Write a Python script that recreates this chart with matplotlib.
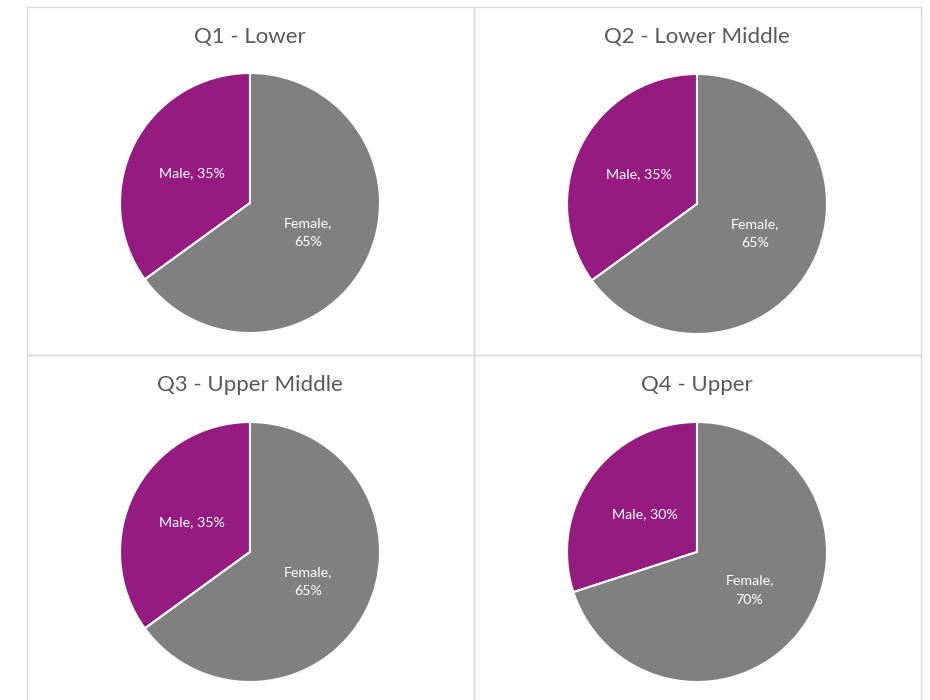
import matplotlib
matplotlib.use("Agg")
import matplotlib.pyplot as plt
from matplotlib.patches import Rectangle

plt.rcParams['font.family'] = ['Lato', 'DejaVu Sans']

titles = ["Q1 - Lower", "Q2 - Lower Middle", "Q3 - Upper Middle", "Q4 - Upper"]
categories = ["Male", "Female"]
male = [35, 35, 35, 30]
female = [65, 65, 65, 70]
colors = ["#951B81", "#808080"]

W, H = 930, 700
fig = plt.figure(figsize=(9.3, 7), dpi=100)

# panel boxes (pixels): left, top, right, bottom
panels = [(27, 7, 474, 355), (474, 7, 921, 355),
          (27, 355, 474, 715), (474, 355, 921, 715)]
centers = [(250, 203), (697, 204), (250, 552), (697, 552)]
title_y = [37, 37, 385, 385]
r = 130

for i in range(4):
    l, t, rr, b = panels[i]
    fig.patches.append(Rectangle((l / W, 1 - b / H), (rr - l) / W, (b - t) / H,
                                 transform=fig.transFigure, fill=False,
                                 edgecolor="#D9D9D9", linewidth=1))
    cx, cy = centers[i]
    ax = fig.add_axes([(cx - r) / W, 1 - (cy + r) / H, 2 * r / W, 2 * r / H])
    vals = [male[i], female[i]]
    labels = [f"{categories[0]}, {male[i]}%", f"{categories[1]},\n{female[i]}%"]
    wedges, texts = ax.pie(vals, colors=colors, startangle=90, counterclock=True,
                           labels=labels, labeldistance=0.5,
                           wedgeprops=dict(edgecolor="white", linewidth=1.5),
                           textprops=dict(color="white", fontsize=10.3))
    for tx in texts:
        tx.set_ha("center")
        tx.set_va("center")
        tx.set_linespacing(1.75)
    ax.set_xlim(-1, 1)
    ax.set_ylim(-1, 1)
    ax.set_aspect("equal")
    ax.axis("off")
    fig.text(cx / W, 1 - title_y[i] / H, titles[i], ha="center", va="center",
             fontsize=16, color="#595959")

fig.savefig("out.png", dpi=100, facecolor="white")
